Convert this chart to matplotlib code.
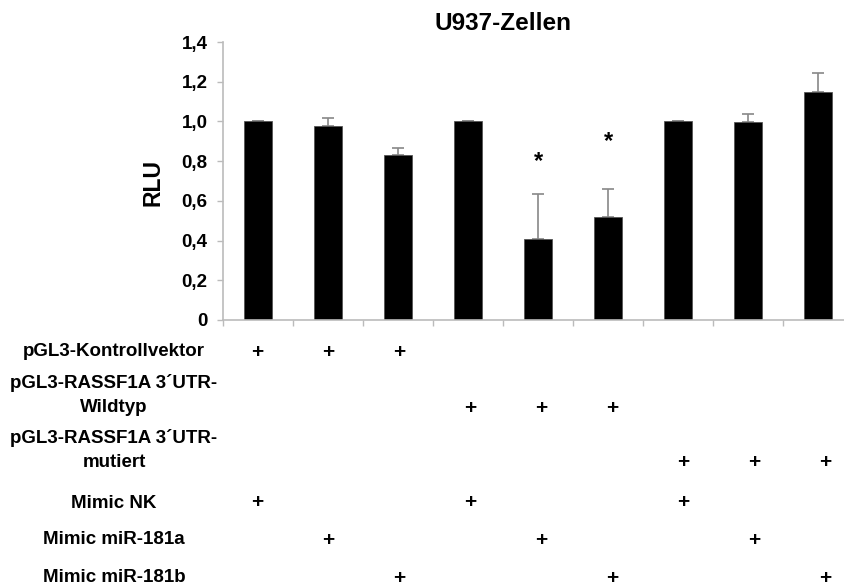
import matplotlib.pyplot as plt
import numpy as np

plt.rcParams['font.family'] = ['Liberation Sans', 'DejaVu Sans']
plt.rcParams['font.weight'] = 'bold'

# bar values and upper error bars
values = [1.0, 0.975, 0.83, 1.0, 0.41, 0.52, 1.0, 0.995, 1.15]
errors = [0.003, 0.04, 0.035, 0.003, 0.225, 0.14, 0.003, 0.04, 0.095]
# significance stars (bar index, height)
star_idx = [4, 5]
star_y = [0.80, 0.90]

yticks = [0, 0.2, 0.4, 0.6, 0.8, 1.0, 1.2, 1.4]
ytick_labels = ['0', '0,2', '0,4', '0,6', '0,8', '1,0', '1,2', '1,4']

row_labels = ['pGL3-Kontrollvektor', 'pGL3-RASSF1A 3´UTR-\nWildtyp',
              'pGL3-RASSF1A 3´UTR-\nmutiert', 'Mimic NK',
              'Mimic miR-181a', 'Mimic miR-181b']
# which bars have a "+" in each row
plus_rows = [
    [0, 1, 2],
    [3, 4, 5],
    [6, 7, 8],
    [0, 3, 6],
    [1, 4, 7],
    [2, 5, 8],
]

W, H = 845, 587
fig = plt.figure(figsize=(W / 100, H / 100), dpi=100)
# axes runs a bit past the right edge, like the original crop
ax = fig.add_axes([223 / W, 1 - 320 / H, 630 / W, 278 / H])

x = np.arange(len(values))
ax.bar(x, values, width=0.4, color='black', edgecolor='#555555', linewidth=0.6, zorder=2)
ax.errorbar(x, values, yerr=[np.zeros(len(errors)), errors], fmt='none',
            ecolor='#888888', elinewidth=1.2, capsize=4, capthick=1.2, zorder=1)
for i, yy in zip(star_idx, star_y):
    ax.text(i, yy, '*', ha='center', va='center', fontsize=17, fontweight='bold')

ax.set_xlim(-0.5, len(values) - 0.5)
ax.set_ylim(0, 1.4)
ax.set_yticks(yticks)
ax.set_yticklabels(ytick_labels, fontsize=13.5)
ax.set_xticks(np.arange(len(values) + 1) - 0.5)
ax.set_xticklabels([])
ax.tick_params(axis='both', color='#bbbbbb', length=4, width=1)
ax.tick_params(axis='y', pad=7)
for s in ['top', 'right']:
    ax.spines[s].set_visible(False)
for s in ['left', 'bottom']:
    ax.spines[s].set_color('#bbbbbb')
    ax.spines[s].set_linewidth(1.2)

fig.text(503 / W, 1 - 23 / H, 'U937-Zellen', ha='center', va='center', fontsize=17.5, fontweight='bold')
fig.text(153 / W, 1 - 183 / H, 'RLU', ha='center', va='center', rotation=90, fontsize=16.5, fontweight='bold')

# the +/- table under the chart; "+" columns a touch wider than the bars
plus_step = 71 / 70
row_y = [352, 408, 463, 503, 540, 578]
label_y = [352, 395, 450, 503, 540, 578]
for lab, ry, ly, cols in zip(row_labels, row_y, label_y, plus_rows):
    fig.text(114 / W, 1 - ly / H, lab, ha='center', va='center', fontsize=13.5,
             fontweight='bold', linespacing=1.55)
    for c in cols:
        xf = ax.transData.transform((c * plus_step - 0.015, 0))[0] / W
        fig.text(xf, 1 - ry / H, '+', ha='center', va='center', fontsize=15, fontweight='bold')

fig.savefig('out.png', dpi=100)
